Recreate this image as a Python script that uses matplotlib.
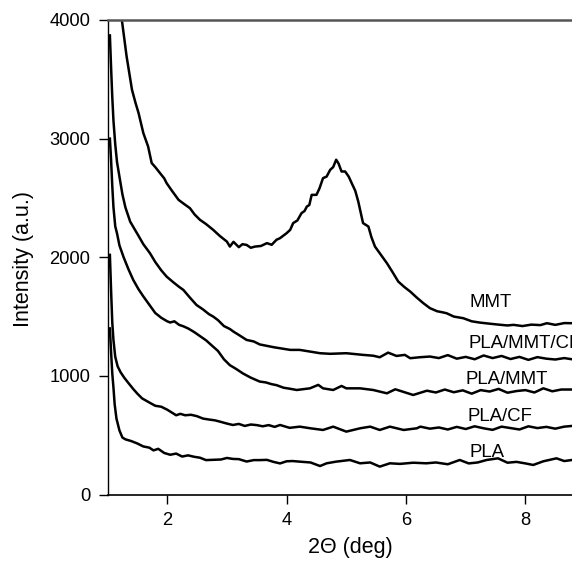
import matplotlib
matplotlib.use("Agg")
import matplotlib.pyplot as plt

plt.rcParams['font.family'] = ['Liberation Sans', 'DejaVu Sans']

# ---------------- data ----------------
mmt_x = [1.20, 1.24, 1.32, 1.41, 1.47, 1.52, 1.60, 1.68, 1.74, 1.80, 1.88, 1.95, 1.99, 2.08,
         2.19, 2.28, 2.38, 2.46, 2.55, 2.65, 2.77, 2.88, 3.00, 3.05, 3.11, 3.20, 3.26, 3.33,
         3.40, 3.47, 3.57, 3.67, 3.75, 3.83, 3.89, 4.00, 4.06, 4.11, 4.18, 4.25, 4.30, 4.34,
         4.38, 4.42, 4.50, 4.55, 4.61, 4.67, 4.73, 4.78, 4.83, 4.87, 4.92, 4.98, 5.04, 5.09,
         5.15, 5.20, 5.28, 5.37, 5.42, 5.48, 5.58, 5.68, 5.78, 5.87, 5.97, 6.07, 6.18, 6.29,
         6.40, 6.52, 6.62, 6.68, 6.80, 6.96, 7.10, 7.24, 7.40, 7.55, 7.70, 7.80, 7.95, 8.10,
         8.25, 8.36, 8.50, 8.65, 8.78]
mmt_y = [4300, 4002, 3693, 3412, 3300, 3216, 3047, 2934, 2794, 2760, 2709, 2665, 2625, 2560,
         2484, 2450, 2414, 2360, 2315, 2280, 2231, 2180, 2132, 2090, 2130, 2085, 2110, 2104,
         2080, 2090, 2095, 2119, 2105, 2147, 2161, 2203, 2231, 2288, 2310, 2372, 2390, 2428,
         2440, 2526, 2526, 2580, 2667, 2680, 2737, 2760, 2822, 2790, 2723, 2723, 2680, 2625,
         2560, 2470, 2288, 2259, 2170, 2090, 2020, 1950, 1870, 1795, 1750, 1711, 1660, 1613,
         1571, 1545, 1535, 1528, 1500, 1486, 1460, 1449, 1440, 1432, 1425, 1430, 1420, 1432,
         1428, 1444, 1430, 1445, 1444]

pmc_x = [1.04, 1.06, 1.08, 1.10, 1.13, 1.16, 1.20, 1.25, 1.30, 1.38, 1.45, 1.52, 1.60, 1.71,
         1.80, 1.90, 1.99, 2.10, 2.20, 2.27, 2.38, 2.49, 2.60, 2.70, 2.77, 2.85, 2.95, 3.05,
         3.11, 3.20, 3.33, 3.45, 3.55, 3.70, 3.80, 3.89, 4.06, 4.22, 4.39, 4.56, 4.73, 5.00,
         5.28, 5.45, 5.56, 5.70, 5.84, 5.98, 6.07, 6.23, 6.40, 6.55, 6.70, 6.85, 7.00, 7.15,
         7.30, 7.45, 7.60, 7.75, 7.90, 8.05, 8.20, 8.35, 8.50, 8.65, 8.78]
pmc_y = [3870, 3600, 3350, 3150, 2950, 2800, 2680, 2530, 2420, 2300, 2240, 2180, 2110, 2035,
         1960, 1890, 1837, 1790, 1750, 1725, 1660, 1598, 1560, 1520, 1500, 1470, 1420, 1395,
         1373, 1345, 1303, 1290, 1265, 1250, 1240, 1233, 1219, 1219, 1205, 1191, 1186, 1191,
         1177, 1170, 1157, 1196, 1168, 1177, 1149, 1157, 1163, 1150, 1175, 1145, 1160, 1140,
         1172, 1150, 1168, 1142, 1160, 1135, 1158, 1145, 1138, 1150, 1140]

pm_x = [1.04, 1.06, 1.08, 1.10, 1.13, 1.16, 1.20, 1.27, 1.35, 1.43, 1.52, 1.60, 1.70, 1.80,
        1.90, 2.00, 2.05, 2.12, 2.20, 2.27, 2.35, 2.45, 2.55, 2.65, 2.75, 2.85, 2.95, 3.05,
        3.15, 3.27, 3.40, 3.55, 3.65, 3.75, 3.83, 3.95, 4.05, 4.17, 4.39, 4.53, 4.61, 4.78,
        4.92, 5.00, 5.23, 5.45, 5.68, 5.82, 6.12, 6.35, 6.50, 6.65, 6.80, 6.95, 7.10, 7.25,
        7.40, 7.55, 7.70, 7.85, 8.00, 8.15, 8.30, 8.45, 8.60, 8.78]
pm_y = [3000, 2820, 2600, 2420, 2260, 2200, 2100, 2000, 1900, 1810, 1730, 1670, 1600, 1530,
        1490, 1460, 1450, 1460, 1430, 1418, 1400, 1370, 1335, 1300, 1255, 1210, 1140, 1090,
        1060, 1020, 985, 952, 945, 930, 922, 900, 892, 881, 895, 924, 895, 881,
        915, 895, 895, 881, 853, 887, 839, 875, 860, 885, 862, 878, 850, 880,
        868, 890, 858, 872, 880, 860, 895, 870, 885, 885]

pcf_x = [1.04, 1.06, 1.08, 1.10, 1.13, 1.17, 1.22, 1.28, 1.35, 1.43, 1.50, 1.58, 1.65, 1.72,
         1.80, 1.90, 2.00, 2.08, 2.15, 2.22, 2.30, 2.40, 2.50, 2.60, 2.70, 2.80, 2.90, 3.00,
         3.10, 3.20, 3.30, 3.40, 3.50, 3.60, 3.70, 3.80, 3.89, 4.05, 4.22, 4.40, 4.61, 4.78,
         5.00, 5.23, 5.40, 5.56, 5.73, 5.96, 6.18, 6.24, 6.40, 6.55, 6.70, 6.85, 7.00, 7.15,
         7.30, 7.45, 7.60, 7.75, 7.90, 8.05, 8.20, 8.35, 8.50, 8.65, 8.78]
pcf_y = [2020, 1720, 1450, 1300, 1160, 1080, 1030, 985, 940, 890, 850, 810, 790, 770,
         748, 740, 715, 690, 668, 680, 668, 672, 660, 640, 632, 625, 612, 598,
         586, 595, 578, 590, 585, 575, 585, 570, 586, 562, 572, 558, 544, 572,
         530, 558, 572, 544, 572, 544, 558, 572, 555, 565, 548, 570, 552, 575,
         558, 545, 572, 560, 548, 575, 560, 570, 555, 572, 578]

pla_x = [1.04, 1.06, 1.08, 1.10, 1.12, 1.15, 1.20, 1.25, 1.30, 1.40, 1.50, 1.60, 1.70, 1.77,
         1.85, 1.95, 2.05, 2.15, 2.25, 2.35, 2.45, 2.55, 2.65, 2.75, 2.90, 3.00, 3.10, 3.20,
         3.33, 3.45, 3.55, 3.67, 3.78, 3.89, 4.00, 4.10, 4.22, 4.40, 4.56, 4.67, 4.83, 5.06,
         5.23, 5.40, 5.56, 5.73, 5.90, 6.12, 6.34, 6.50, 6.70, 6.90, 7.05, 7.20, 7.35, 7.54,
         7.70, 7.85, 8.00, 8.13, 8.30, 8.52, 8.65, 8.78]
pla_y = [1400, 1200, 1020, 900, 760, 640, 540, 480, 465, 450, 430, 405, 395, 372,
         385, 350, 335, 345, 320, 330, 318, 310, 290, 292, 295, 308, 300, 298,
         278, 290, 290, 292, 275, 262, 280, 282, 277, 270, 240, 263, 277, 291,
         263, 270, 235, 263, 258, 268, 263, 270, 255, 291, 262, 270, 291, 305,
         268, 275, 262, 249, 280, 305, 282, 291]

series_x = [mmt_x, pmc_x, pm_x, pcf_x, pla_x]
series_y = [mmt_y, pmc_y, pm_y, pcf_y, pla_y]
labels = ["MMT", "PLA/MMT/CF", "PLA/MMT", "PLA/CF", "PLA"]
label_x = [7.06, 7.04, 7.00, 7.03, 7.07]
label_y = [1621, 1270, 969, 657, 356]

x_ticks = [2, 4, 6, 8]
y_ticks = [0, 1000, 2000, 3000, 4000]

# ---------------- figure ----------------
fig = plt.figure(figsize=(5.72, 5.61), dpi=100)
ax = fig.add_axes([107.5 / 572, 1 - 494.5 / 561, 1 - 107.5 / 572, (494.5 - 20) / 561])

for xs, ys in zip(series_x, series_y):
    ax.plot(xs, ys, color="black", lw=1.8, solid_joinstyle="round")

for lab, lx, ly in zip(labels, label_x, label_y):
    ax.text(lx, ly, lab, fontsize=13.4, ha="left", va="center", clip_on=False)

ax.set_xlim(1.0, 8.78)
ax.set_ylim(0, 4000)
ax.set_xticks(x_ticks)
ax.set_yticks(y_ticks)
ax.tick_params(axis="both", direction="out", labelsize=13.2, length=6.5, width=1.0, pad=6)

ax.spines["right"].set_visible(False)
ax.spines["left"].set_linewidth(1.0)
ax.spines["bottom"].set_linewidth(1.2)
ax.spines["top"].set_linewidth(1.8)
ax.spines["top"].set_color("#555555")

fig.text(350 / 572, 1 - 548 / 561, "2\u0398 (deg)", fontsize=15.5, ha="center", va="center")
fig.text(23 / 572, 1 - 259 / 561, "Intensity (a.u.)", fontsize=15.5, ha="center", va="center",
         rotation=90)

fig.savefig("out.png", dpi=100)
